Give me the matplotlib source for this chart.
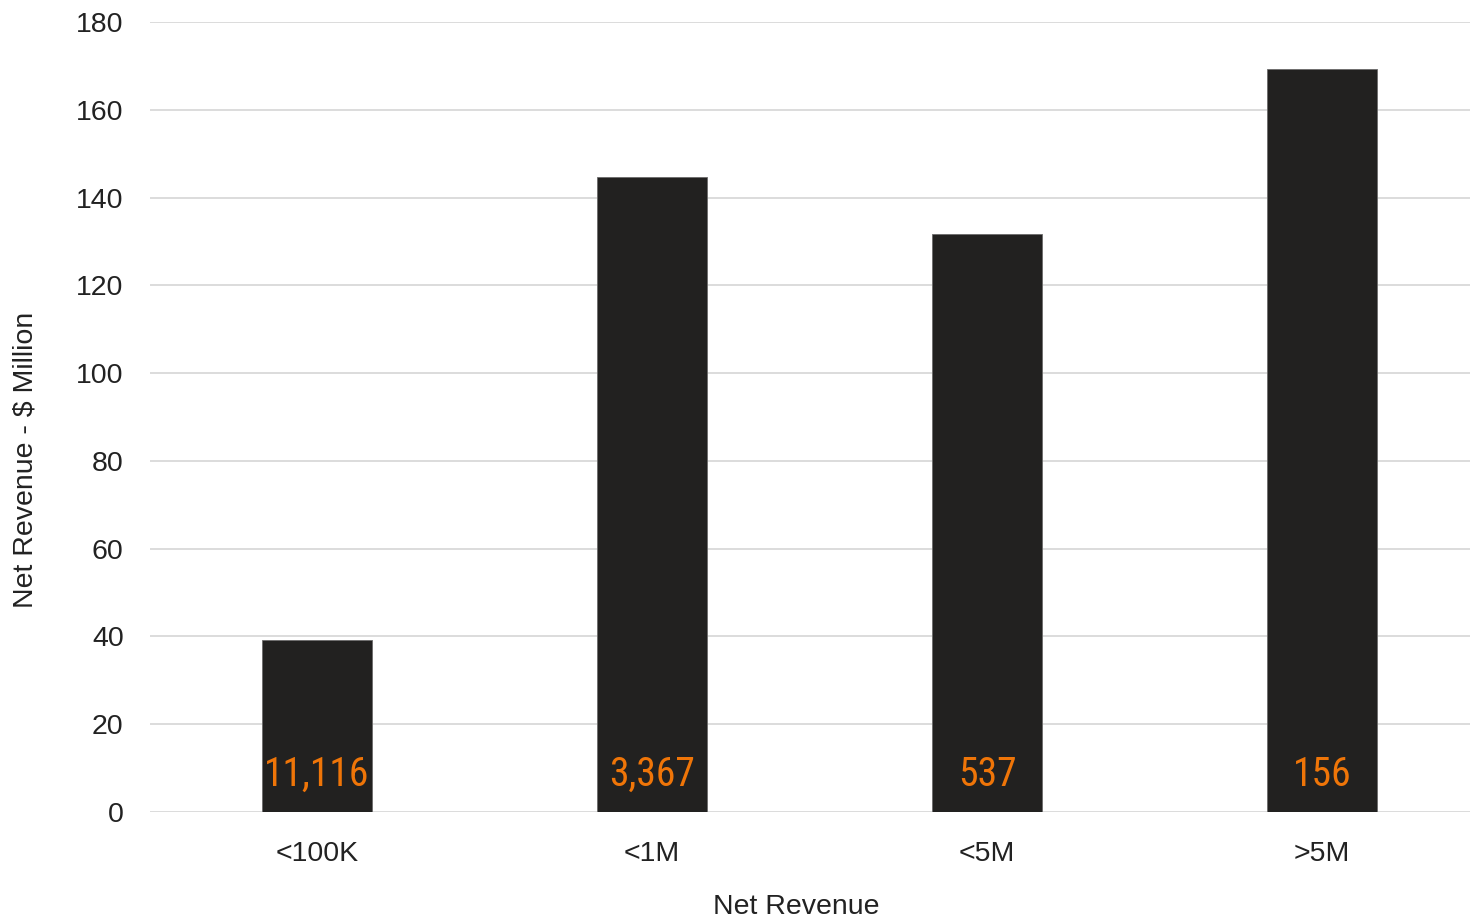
import matplotlib.pyplot as plt
import matplotlib.font_manager as fm

categories = ["<100K", "<1M", "<5M", ">5M"]
revenue = [39.3, 144.8, 131.8, 169.3]
counts = ["11,116", "3,367", "537", "156"]

# pick a narrow face for the count labels
names = {f.name for f in fm.fontManager.ttflist}
narrow = "DejaVu Sans"
for cand in ["Roboto Condensed", "Open Sans Condensed", "Liberation Sans Narrow", "DejaVu Sans Condensed"]:
    if cand in names:
        narrow = cand
        break

plt.rcParams["font.family"] = ["Liberation Sans", "DejaVu Sans"]

fig = plt.figure(figsize=(14.71, 9.19), dpi=100)
ax = fig.add_axes([0.102, 0.1164, 0.897, 0.8596])

x = range(len(categories))
ax.bar(x, revenue, width=0.33, color="#222120", edgecolor="#6b6b6b", linewidth=0.6, zorder=3)

for xi, c in zip(x, counts):
    ax.text(xi, 8.6, c, ha="center", va="center", color="#ef7508",
            fontsize=28.5, family=[narrow, "DejaVu Sans"], fontstretch="condensed", zorder=4)

ax.set_xlim(-0.4985, 3.44)
ax.set_ylim(0, 180)
ax.set_yticks(range(0, 181, 20))
ax.set_xticks(list(x))
ax.set_xticklabels(categories)
ax.tick_params(axis="both", length=0, labelsize=20.5, colors="#222222")
ax.tick_params(axis="x", pad=21)
ax.tick_params(axis="y", pad=19)
ax.yaxis.grid(True, color="#d9d9d9", linewidth=1.3, zorder=0)
for s in ax.spines.values():
    s.set_visible(False)

ax.set_xlabel("Net Revenue", fontsize=20.5, color="#222222", labelpad=19)
ax.xaxis.label.set_x(0.49)
ax.set_ylabel("Net Revenue - $ Million", fontsize=20.5, color="#222222")
ax.yaxis.set_label_coords(-0.0848, 0.446)

fig.savefig("out.png", dpi=100)
